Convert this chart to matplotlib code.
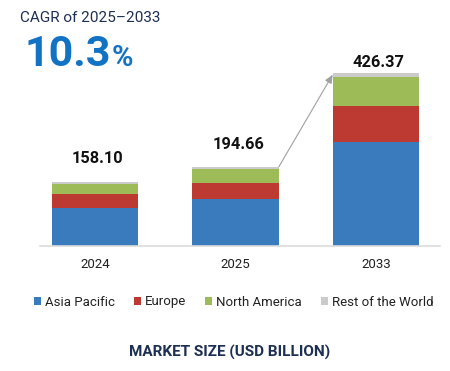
import matplotlib
matplotlib.use("Agg")
import matplotlib.pyplot as plt
from matplotlib.patches import Patch

plt.rcParams['font.family'] = ['Roboto', 'DejaVu Sans']

years = ["2024", "2025", "2033"]
totals = [158.10, 194.66, 426.37]
series_names = ["Asia Pacific", "Europe", "North America", "Rest of the World"]
asia_pacific = [93.9, 114.4, 256.8]
europe = [32.9, 39.5, 88.9]
north_america = [26.4, 35.6, 69.9]
rest_of_world = [4.9, 5.16, 10.77]
cagr_label = "CAGR of 2025\u20132033"
cagr_value = "10.3"
axis_title = "MARKET SIZE (USD BILLION)"

colors = ["#3a7bbd", "#bc3a31", "#9dbb57", "#cbcbcb"]
navy = "#1d2f52"
label_offsets = [56, 54, 26]  # gap between bar top and label centre (data units)

fig = plt.figure(figsize=(4.5, 3.71), dpi=100)
ax = fig.add_axes([40/450, 1-245.5/371, 400/450, 182/371])

x = list(range(len(years)))
w = 0.617
bottoms = [0.0]*len(years)
for vals, c in zip([asia_pacific, europe, north_america, rest_of_world], colors):
    ax.bar(x, vals, width=w, bottom=bottoms, color=c, edgecolor='none')
    bottoms = [b+v for b, v in zip(bottoms, vals)]

for xi, t, off in zip(x, totals, label_offsets):
    ax.text(xi + 0.02, t + off, f"{t:.2f}", ha='center', va='center', fontsize=11.8,
            fontweight='bold', color='#111111')

ax.annotate("", xy=(2 - w/2, totals[2] - 4), xytext=(1 + w/2, totals[1]),
            arrowprops=dict(arrowstyle='-|>,head_length=0.5,head_width=0.22',
                            color='#a0a0a0', lw=0.8, shrinkA=0, shrinkB=0))

ax.set_xlim(-0.391, 2.455)
ax.set_ylim(0, 450)
ax.set_xticks(x)
ax.set_xticklabels(years, fontsize=9.5, color='#222222')
ax.tick_params(axis='x', length=0, pad=9)
ax.set_yticks([])
for s in ['top', 'right', 'left']:
    ax.spines[s].set_visible(False)
ax.spines['bottom'].set_color('#dcdcdc')
ax.spines['bottom'].set_linewidth(1.2)
ax.patch.set_alpha(0)

fig.text(20/450, 1-18/371, cagr_label, fontsize=11, color=navy, va='center', ha='left')
fig.text(24/450, 1-54/371, cagr_value, fontsize=31, fontweight='bold', color='#1272c4',
         va='center', ha='left')
fig.text(112/450, 1-58/371, "%", fontsize=21, fontweight='bold', color='#1272c4',
         va='center', ha='left')

handles = [Patch(facecolor=c, edgecolor='none') for c in colors]
fig.legend(handles, series_names, loc='center', bbox_to_anchor=(234/450, 1-302/371),
           ncol=4, frameon=False, fontsize=9.5, handlelength=0.53, handleheight=0.53,
           handletextpad=0.3, columnspacing=1.44, labelcolor='#222222')

fig.text(230/450, 1-352/371, axis_title, fontsize=11, fontweight='bold', color=navy,
         ha='center', va='center')

fig.savefig("out.png", dpi=100)
